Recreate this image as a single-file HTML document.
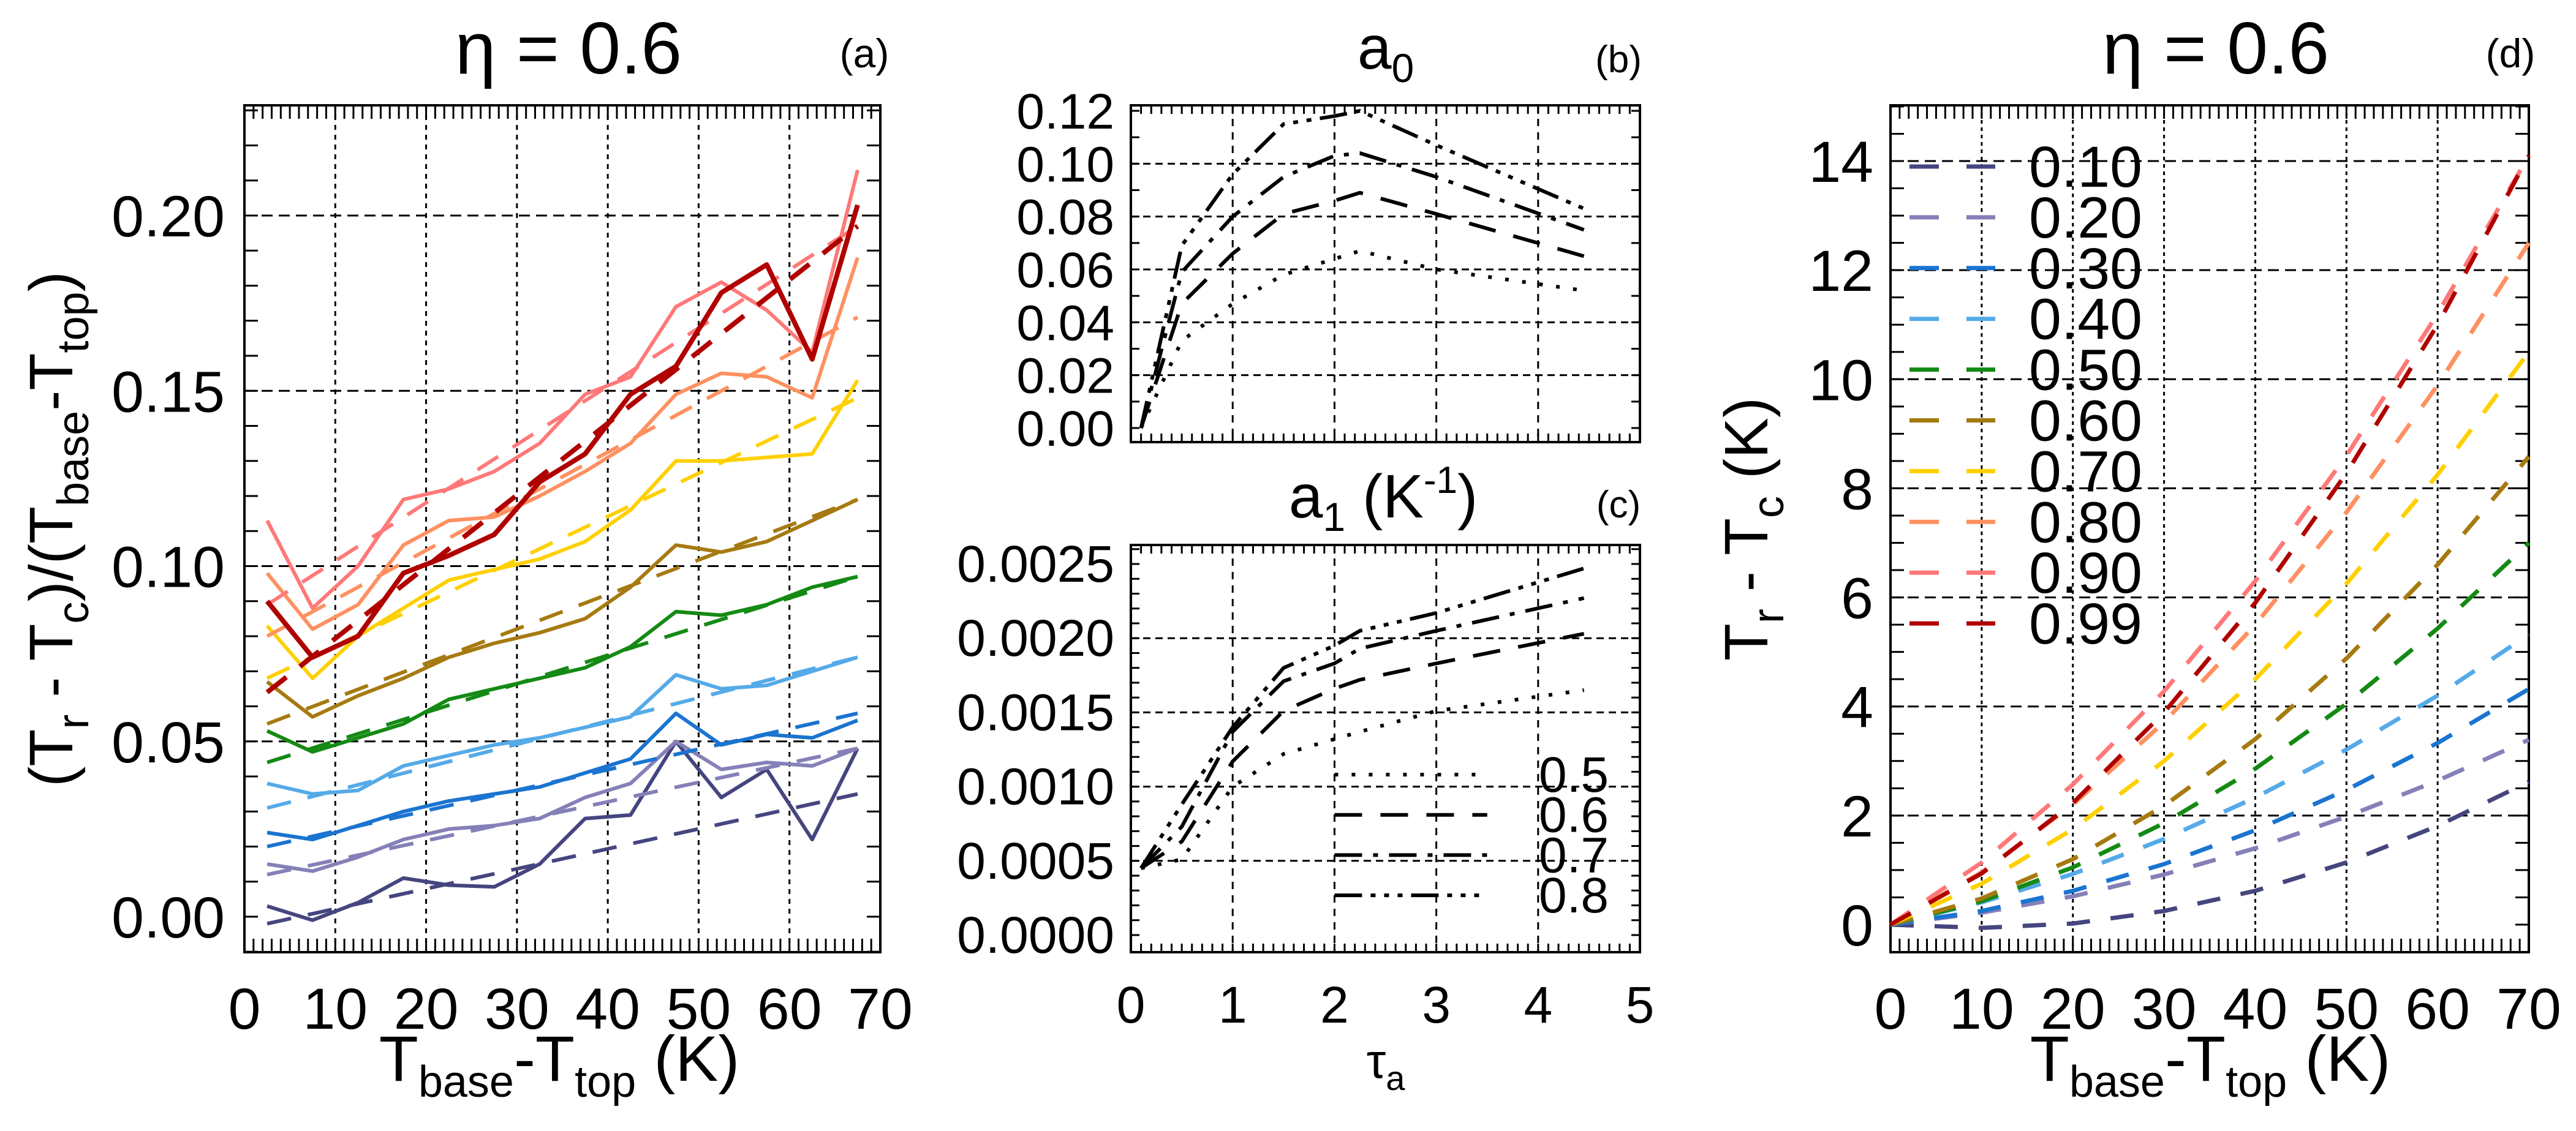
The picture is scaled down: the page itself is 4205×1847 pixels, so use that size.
<!DOCTYPE html>
<html><head><meta charset="utf-8"><style>
html,body{margin:0;padding:0;background:#fff}
svg{display:block}
text{font-family:"Liberation Sans",sans-serif;fill:#000}
</style></head><body>
<svg id="fig" width="4205" height="1847" viewBox="0 0 4205 1847" xmlns="http://www.w3.org/2000/svg"></svg>
<script>
// ---------- DATA ----------
const etaLabels = ['0.10','0.20','0.30','0.40','0.50','0.60','0.70','0.80','0.90','0.99'];
const etaColors = ['#45457f','#8580b8','#1a74d0','#55aae8','#148a14','#a67a10','#ffd000','#ff9060','#ff7878','#b00000'];
const aX = [2.5,7.5,12.5,17.5,22.5,27.5,32.5,37.5,42.5,47.5,52.5,57.5,62.5,67.5];
const aS0 = [0.003,-0.001,0.004,0.011,0.009,0.0085,0.015,0.028,0.029,0.050,0.034,0.042,0.022,0.048];
const aS1 = [0.015,0.013,0.017,0.022,0.025,0.026,0.028,0.034,0.038,0.050,0.042,0.044,0.043,0.048];
const aS2 = [0.024,0.022,0.026,0.030,0.033,0.035,0.037,0.041,0.045,0.058,0.049,0.052,0.051,0.056];
const aS3 = [0.038,0.035,0.036,0.043,0.046,0.049,0.051,0.054,0.057,0.069,0.065,0.066,0.070,0.074];
const aS4 = [0.053,0.047,0.051,0.055,0.062,0.065,0.068,0.071,0.077,0.087,0.086,0.089,0.094,0.097];
const aS5 = [0.067,0.057,0.063,0.068,0.074,0.078,0.081,0.085,0.094,0.106,0.104,0.107,0.113,0.119];
const aS6 = [0.083,0.068,0.080,0.088,0.096,0.099,0.102,0.107,0.116,0.130,0.130,0.131,0.132,0.153];
const aS7 = [0.098,0.082,0.089,0.106,0.113,0.114,0.120,0.127,0.135,0.149,0.155,0.154,0.148,0.188];
const aS8 = [0.113,0.088,0.100,0.119,0.122,0.127,0.135,0.149,0.154,0.174,0.181,0.173,0.161,0.213];
const aS9 = [0.090,0.074,0.080,0.098,0.103,0.109,0.124,0.132,0.149,0.157,0.178,0.186,0.159,0.203];
const aSolid = [aS0,aS1,aS2,aS3,aS4,aS5,aS6,aS7,aS8,aS9];
const aFitStart = [-0.002,0.012,0.020,0.031,0.044,0.055,0.068,0.080,0.089,0.064];
const aFitEnd = [0.035,0.048,0.058,0.074,0.097,0.119,0.148,0.171,0.197,0.197];

const tauX = [0.1,0.5,1,1.5,2,2.25,3,4.45];
const b05 = [0,0.033,0.047,0.058,0.064,0.067,0.060,0.052];
const b06 = [0,0.047,0.066,0.081,0.086,0.089,0.081,0.065];
const b07 = [0,0.059,0.080,0.095,0.103,0.104,0.095,0.075];
const b08 = [0,0.069,0.096,0.115,0.118,0.120,0.107,0.083];
const c05 = [0.00045,0.00051,0.00100,0.00122,0.00132,0.00137,0.00151,0.00165];
const c06 = [0.00045,0.00063,0.00117,0.00151,0.00166,0.00172,0.00183,0.00203];
const c07 = [0.00045,0.00073,0.00137,0.00171,0.00183,0.00193,0.00205,0.00227];
const c08 = [0.00045,0.00088,0.00140,0.00180,0.00195,0.00205,0.00217,0.00247];
const tauLabels = ['0.5','0.6','0.7','0.8'];
const tauDash = ['6,22','45,30','45,18,8,18','45,14,8,14,8,14,8,14'];

const dX = [0,10,20,30,40,50,60,70];
const d0 = [0,-0.06,0.02,0.25,0.62,1.14,1.81,2.62];
const d1 = [0,0.22,0.52,0.92,1.40,1.98,2.64,3.39];
const d2 = [0,0.25,0.62,1.11,1.73,2.47,3.33,4.32];
const d3 = [0,0.41,0.93,1.57,2.33,3.21,4.20,5.32];
const d4 = [0,0.43,1.05,1.86,2.86,4.05,5.43,7.00];
const d5 = [0,0.48,1.20,2.18,3.40,4.88,6.60,8.58];
const d6 = [0,0.75,1.75,3.00,4.50,6.25,8.25,10.5];
const d7 = [0,0.96,2.20,3.71,5.50,7.56,9.89,12.5];
const d8 = [0,1.14,2.57,4.28,6.30,8.60,11.2,14.1];
const d9 = [0,0.94,2.23,3.89,5.90,8.28,11.0,14.1];
const dSeries = [d0,d1,d2,d3,d4,d5,d6,d7,d8,d9];

// ---------- HELPERS ----------
const NS='http://www.w3.org/2000/svg';
const svg=document.getElementById('fig');
function mk(tag,attrs,parent){const e=document.createElementNS(NS,tag);for(const k in attrs)e.setAttribute(k,attrs[k]);(parent||svg).appendChild(e);return e;}
function txt(s,x,y,size,anchor,parent){const t=mk('text',{x:x,y:y,'font-size':size,'text-anchor':anchor||'middle'},parent);t.innerHTML=s;return t;}
function scale(d0,d1,r0,r1){return v=>r0+(v-d0)*(r1-r0)/(d1-d0);}

function frame(name,L,T,R,B,sx,sy,xMinor,yMinor,xGrid,yGrid,xGridDash,yGridDash,tl){
  const g=mk('g',{});
  
  
  xGrid.forEach(v=>mk('line',{x1:sx(v),x2:sx(v),y1:T,y2:B,stroke:'#000','stroke-width':3,'stroke-dasharray':xGridDash},g));
  yGrid.forEach(v=>mk('line',{x1:L,x2:R,y1:sy(v),y2:sy(v),stroke:'#000','stroke-width':3,'stroke-dasharray':yGridDash},g));
  xMinor.forEach(v=>{const x=sx(v);mk('line',{x1:x,x2:x,y1:B,y2:B-tl,stroke:'#000','stroke-width':3},g);mk('line',{x1:x,x2:x,y1:T,y2:T+tl,stroke:'#000','stroke-width':3},g);});
  yMinor.forEach(v=>{const y=sy(v);mk('line',{x1:L,x2:L+tl,y1:y,y2:y,stroke:'#000','stroke-width':3},g);mk('line',{x1:R,x2:R-tl,y1:y,y2:y,stroke:'#000','stroke-width':3},g);});
  mk('rect',{x:L,y:T,width:R-L,height:B-T,fill:'none',stroke:'#000','stroke-width':4},g);
  return g;
}
function range(a,b,s){const r=[];for(let v=a;v<=b+1e-9;v+=s)r.push(+v.toFixed(6));return r;}
function pts(xs,ys,sx,sy){return xs.map((x,i)=>sx(x).toFixed(1)+','+sy(ys[i]).toFixed(1)).join(' ');}
const SUB='font-size="72" dy="26"', UNSUB='dy="-26"';

// ---------- PANEL A ----------
(function(){
  const L=399,R=1437,T=172,B=1555;
  const sx=scale(0,70,L,R), sy=scale(0,0.2,1497,352);
  frame('panel-a-axes',L,T,R,B,sx,sy,range(0,70,1),range(-0.01,0.23,0.01),[10,20,30,40,50,60],[0.05,0.1,0.15,0.2],'8,8','18,10',22);
  const g=mk('g',{});
  
  
  aSolid.forEach((s,i)=>{
    const p=mk('polyline',{points:pts(aX,s,sx,sy),fill:'none',stroke:etaColors[i],'stroke-width':i==9?8:6,'stroke-linejoin':'round'},g);
    
    
    const f=mk('line',{x1:sx(aX[0]),y1:sy(aFitStart[i]),x2:sx(aX[aX.length-1]),y2:sy(aFitEnd[i]),stroke:etaColors[i],'stroke-width':i==9?8:6,'stroke-dasharray':'40,28'},g);
    
    
  });
  [0,0.05,0.1,0.15,0.2].forEach(v=>txt(v.toFixed(2),367,sy(v)+34,95,'end'));
  [0,10,20,30,40,50,60,70].forEach(v=>txt(v,sx(v),1680,95));
  txt('η = 0.6',928,120,120);
  txt('(a)',1411,110,66);
  txt('T<tspan '+SUB+'>base</tspan><tspan '+UNSUB+'>-T</tspan><tspan '+SUB+'>top</tspan><tspan '+UNSUB+'> (K)</tspan>',913,1765,105);
  const yt=txt('(T<tspan '+SUB+'>r</tspan><tspan '+UNSUB+'> - T</tspan><tspan '+SUB+'>c</tspan><tspan '+UNSUB+'>)/(T</tspan><tspan '+SUB+'>base</tspan><tspan '+UNSUB+'>-T</tspan><tspan '+SUB+'>top</tspan><tspan '+UNSUB+'>)</tspan>',0,0,100);
  yt.setAttribute('transform','translate(118,864) rotate(-90)');
  
  
})();

// ---------- PANEL B ----------
(function(){
  const L=1846,R=2677,T=172,B=722;
  const sx=scale(0,5,L,R), sy=scale(0,0.12,699,181);
  frame('panel-b-axes',L,T,R,B,sx,sy,range(0,5,0.1),range(0,0.12,0.01),[1,2,3,4],[0.02,0.04,0.06,0.08,0.1],'12,10','12,8',14);
  [b05,b06,b07,b08].forEach((s,i)=>{
    const p=mk('polyline',{points:pts(tauX,s,sx,sy),fill:'none',stroke:'#000','stroke-width':6,'stroke-dasharray':tauDash[i]});
    
    
  });
  range(0,0.12,0.02).forEach(v=>txt(v.toFixed(2),1819,sy(v)+29,82,'end'));
  txt('a<tspan font-size="66" dy="22">0</tspan>',2262,112,100);
  txt('(b)',2642,118,62);
})();

// ---------- PANEL C ----------
(function(){
  const L=1846,R=2677,T=890,B=1555;
  const sx=scale(0,5,L,R), sy=scale(0,0.0025,1527,921);
  frame('panel-c-axes',L,T,R,B,sx,sy,range(0,5,0.1),range(0,0.0026,0.0001),[1,2,3,4],[0.0005,0.001,0.0015,0.002],'12,10','12,8',14);
  [c05,c06,c07,c08].forEach((s,i)=>{
    const p=mk('polyline',{points:pts(tauX,s,sx,sy),fill:'none',stroke:'#000','stroke-width':6,'stroke-dasharray':tauDash[i]});
    
    
  });
  tauLabels.forEach((l,i)=>{
    const y=1265+65.7*i;
    const ln=mk('line',{x1:sx(2),x2:sx(3.5),y1:y,y2:y,stroke:'#000','stroke-width':6,'stroke-dasharray':tauDash[i]});
    
    
    txt(l,2512,y+28,82,'start');
  });
  range(0,0.0025,0.0005).forEach(v=>txt(v.toFixed(4),1819,sy(v)+29,84,'end'));
  [0,1,2,3,4,5].forEach(v=>txt(v,sx(v),1670,84));
  txt('τ<tspan font-size="56" dy="20">a</tspan>',2262,1760,80);
  txt('a<tspan font-size="66" dy="22">1</tspan><tspan dy="-22"> (K</tspan><tspan font-size="62" dy="-40">-1</tspan><tspan dy="40">)</tspan>',2258,845,100);
  txt('(c)',2642,845,62);
})();

// ---------- PANEL D ----------
(function(){
  const L=3086,R=4128,T=172,B=1555;
  const sx=scale(0,70,L,R), sy=scale(0,14,1510,263);
  frame('panel-d-axes',L,T,R,B,sx,sy,range(0,70,1),range(-0.5,15,0.5),[10,20,30,40,50,60],[2,4,6,8,10,12,14],'6,6','18,10',22);
  dSeries.forEach((s,i)=>{
    const p=mk('polyline',{points:pts(dX,s,sx,sy),fill:'none',stroke:etaColors[i],'stroke-width':7,'stroke-dasharray':'38,34'});
    
    
  });
  etaLabels.forEach((l,i)=>{
    const y=272+82.9*i;
    const ln=mk('line',{x1:3117,x2:3257,y1:y,y2:y,stroke:etaColors[i],'stroke-width':7,'stroke-dasharray':'48,45'});
    
    
    txt(l,3312,y+33,95,'start');
  });
  range(0,14,2).forEach(v=>txt(v,3058,sy(v)+34,95,'end'));
  [0,10,20,30,40,50,60,70].forEach(v=>txt(v,sx(v),1680,95));
  txt('η = 0.6',3617,120,120);
  txt('(d)',4098,110,66);
  txt('T<tspan '+SUB+'>base</tspan><tspan '+UNSUB+'>-T</tspan><tspan '+SUB+'>top</tspan><tspan '+UNSUB+'> (K)</tspan>',3608,1765,105);
  const yt=txt('T<tspan '+SUB+'>r</tspan><tspan '+UNSUB+'> - T</tspan><tspan '+SUB+'>c</tspan><tspan '+UNSUB+'> (K)</tspan>',0,0,100);
  yt.setAttribute('transform','translate(2885,864) rotate(-90)');
  
  
})();
</script>
</body></html>
